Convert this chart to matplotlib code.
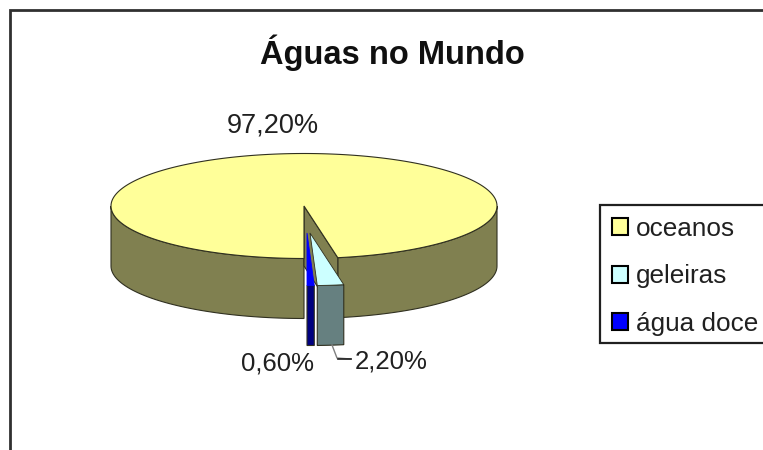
import numpy as np
import matplotlib
matplotlib.use('Agg')
import matplotlib.pyplot as plt
from matplotlib.patches import Patch, Polygon, Rectangle

plt.rcParams['font.family'] = ['Liberation Sans', 'DejaVu Sans']

# dados do grafico
titulo = 'Águas no Mundo'
categorias = ['oceanos', 'geleiras', 'água doce']
valores = [97.2, 2.2, 0.6]
rotulos = ['97,20%', '2,20%', '0,60%']

cor_topo = ['#FFFF99', '#CCFFFF', '#0000FF']
cor_lado = ['#808050', '#668080', '#000080']

# geometria da pizza em pixels
cx, cy = 304, 206
rx, ry = 193, 52.5
altura = 60
inicio = 90  # a pizza comeca apontando para baixo na tela
desloc_x = [0, 6, 3]
desloc_y = [0, 27, 27]


def ponto(t, dx=0, dy=0):
    t = np.radians(t)
    return np.column_stack([cx + rx * np.cos(t) + dx, cy + ry * np.sin(t) + dy])


def parede(ax, t1, t2, cor, dx=0, dy=0):
    # parte externa visivel da fatia
    t = np.linspace(t1, t2, 60)
    t = t[np.sin(np.radians(t)) >= -1e-9]
    if len(t) < 2:
        return
    borda = ponto(t, dx, dy)
    baixo = borda[::-1] + [0, altura]
    ax.add_patch(Polygon(np.vstack([borda, baixo]), fc=cor, ec='#303020', lw=0.8))


fig = plt.figure(figsize=(7.63, 4.5), dpi=100)
ax = fig.add_axes([0, 0, 1, 1])
ax.set_xlim(0, 763)
ax.set_ylim(450, 0)
ax.axis('off')

# moldura do grafico, cortada na direita e embaixo
ax.plot([10, 10, 763], [450, 10, 10], color='#303030', lw=2, solid_joinstyle='miter')

# angulos de cada fatia
angulos = np.array(valores) / sum(valores) * 360
t_ini = inicio
fatias = []
for a in angulos:
    fatias.append((t_ini, t_ini + a))
    t_ini += a

# oceanos
t1, t2 = fatias[0]
parede(ax, t1, 180, cor_lado[0])
parede(ax, 360, t2, cor_lado[0])
fim = ponto([t2])[0]
centro = np.array([cx, cy])
ax.add_patch(Polygon([centro, fim, fim + [0, altura], centro + [0, altura]],
                     fc=cor_lado[0], ec='#303020', lw=0.8))
borda = ponto(np.linspace(t1, t2, 300))
ax.add_patch(Polygon(np.vstack([centro, borda]), fc=cor_topo[0], ec='#303020', lw=0.8))

# fatias pequenas deslocadas para frente
for i in [1, 2]:
    t1, t2 = fatias[i]
    dx, dy = desloc_x[i], desloc_y[i]
    parede(ax, t1, t2, cor_lado[i], dx, dy)
    borda = ponto(np.linspace(t1, t2, 20), dx, dy)
    ax.add_patch(Polygon(np.vstack([[cx + dx, cy + dy], borda]), fc=cor_topo[i],
                         ec='#303020' if i == 1 else cor_topo[i], lw=0.6))

ax.text(392, 53, titulo, fontsize=23.5, fontweight='bold', ha='center', va='center', color='#101010')
ax.text(272.5, 125, rotulos[0], fontsize=19.5, ha='center', va='center', color='#202020')
ax.text(278, 364, rotulos[2], fontsize=18.5, ha='center', va='center', color='#202020')
ax.text(391.5, 361, rotulos[1], fontsize=18.5, ha='center', va='center', color='#202020')

# linha guia do rotulo 2,20%
ax.plot([332, 337, 351], [345, 358, 359], color='#808080', lw=1)
ax.plot([338, 351], [359, 359], color='#202020', lw=1.2)

# caixa da legenda, desenhada a parte para acertar a altura
ax.add_patch(Rectangle((600, 205), 180, 138, fc='white', ec='#202020', lw=1.6))

# legenda
marcas = [Patch(fc=c, ec='black', lw=1.5) for c in cor_topo]
leg = ax.legend(marcas, categorias, loc='upper left', bbox_to_anchor=(600 / 763, 1 - 205 / 450),
                fontsize=18.8, frameon=False,
                borderaxespad=0, handlelength=0.62, handleheight=0.62, handletextpad=0.3,
                labelspacing=0.9, borderpad=0.45, labelcolor='#202020')

fig.savefig('out.png', dpi=100)
